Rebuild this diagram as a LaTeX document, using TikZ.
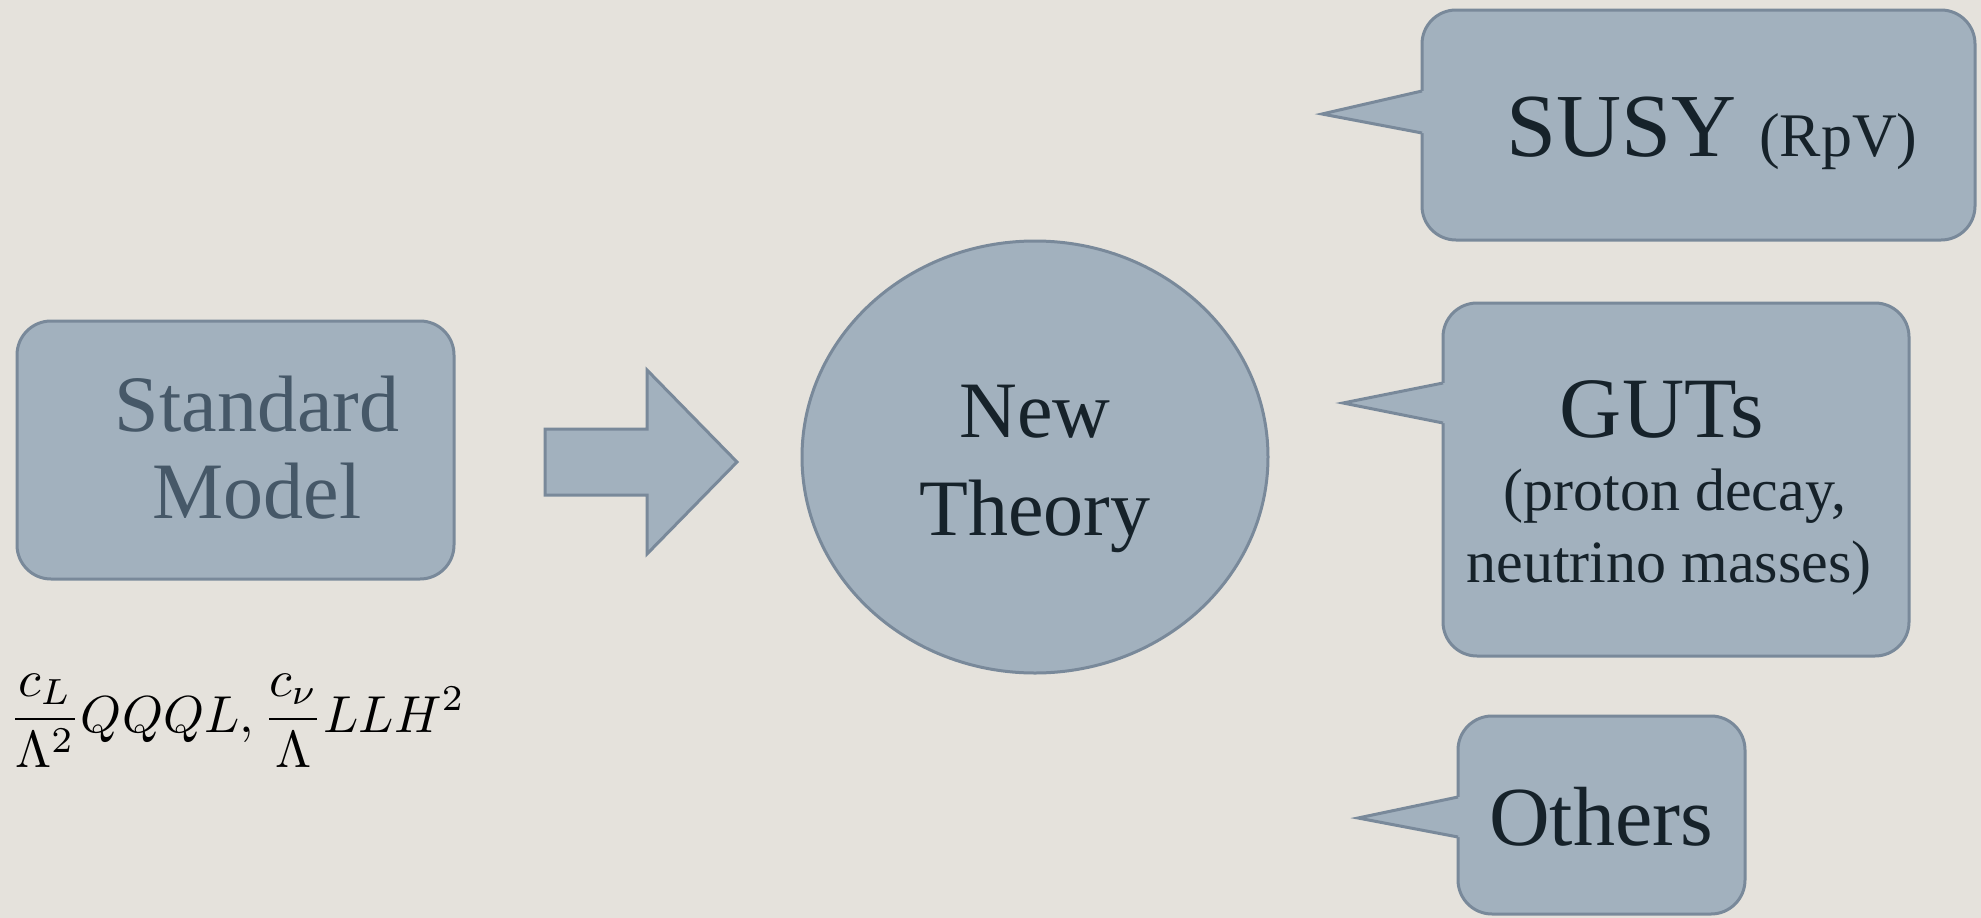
\documentclass[tikz,border=0pt]{standalone}
\usepackage[no-math]{fontspec}
\setmainfont{Liberation Serif}
\usetikzlibrary{shapes.geometric}
\definecolor{bg}{RGB}{229,226,220}
\definecolor{bfill}{RGB}{162,177,190}
\definecolor{bline}{RGB}{121,137,154}
\definecolor{dtext}{RGB}{22,34,42}
\definecolor{smtext}{RGB}{70,88,104}
\tikzset{
  boxstyle/.style={draw=bline, fill=bfill, line width=3pt, rounded corners=34pt, inner sep=0pt},
  ovalstyle/.style={ellipse, draw=bline, fill=bfill, line width=3pt, inner sep=0pt},
  tailfill/.style={fill=bfill},
  tailline/.style={draw=bline, line width=3pt, line join=miter},
  txt/.style={inner sep=0pt, anchor=base, text=dtext},
}
\newcommand{\fsz}[1]{\fontsize{#1}{#1}\selectfont}
\begin{document}
\begin{tikzpicture}[x=1pt, y=-1pt]
\useasboundingbox (0,0) rectangle (1981,918);
\fill[bg] (0,0) rectangle (1981,918);

% Standard Model box
\node[boxstyle, minimum width=437pt, minimum height=258pt] (sm) at (235.5,450) {};
\node[txt, text=smtext, font=\fsz{80}] (sm1) at (257,431) {Standard};
\node[txt, text=smtext, font=\fsz{80}] (sm2) at (257,518) {Model};

% block arrow
\coordinate (a1) at (545,429);
\coordinate (a2) at (647,429);
\coordinate (a3) at (647,370);
\coordinate (atip) at (737,462);
\coordinate (a5) at (647,554);
\coordinate (a6) at (647,495);
\coordinate (a7) at (545,495);
\draw[draw=bline, fill=bfill, line width=3pt, line join=miter] (a1) -- (a2) -- (a3) -- (atip) -- (a5) -- (a6) -- (a7) -- cycle;

% New Theory
\node[ovalstyle, minimum width=466pt, minimum height=432pt] (nt) at (1035,457) {};
\node[txt, font=\fsz{80}] (nt1) at (1035,437) {New};
\node[txt, font=\fsz{80}] (nt2) at (1035,535) {Theory};

% SUSY bubble
\node[boxstyle, minimum width=553pt, minimum height=230pt] (susy) at (1698.5,125) {};
\coordinate (st) at (1322,114);
\coordinate (sb1) at (1422,91);
\coordinate (sb2) at (1422,133);
\fill[tailfill] (st) -- (sb1) -- ++(5,0) -- ++(0,42) -- (sb2) -- cycle;
\draw[tailline] (sb1) -- (st) -- (sb2);
\node[txt, font=\fsz{90}] (susyt) at (1712,156) {SUSY {\fsz{62}(RpV)}};

% GUTs bubble
\node[boxstyle, minimum width=466pt, minimum height=353pt] (guts) at (1676,479.5) {};
\coordinate (gt) at (1343,403);
\coordinate (gb1) at (1443,383);
\coordinate (gb2) at (1443,423);
\fill[tailfill] (gt) -- (gb1) -- ++(5,0) -- ++(0,40) -- (gb2) -- cycle;
\draw[tailline] (gb1) -- (gt) -- (gb2);
\node[txt, font=\fsz{86}] (guts1) at (1662,437) {GUTs};
\node[txt, font=\fsz{60}] (guts2) at (1675,510) {(proton decay,};
\node[txt, font=\fsz{60}] (guts3) at (1669,582) {neutrino masses)};

% Others bubble
\node[boxstyle, minimum width=287pt, minimum height=198pt] (oth) at (1601.5,815) {};
\coordinate (ot) at (1358,818);
\coordinate (ob1) at (1458,797);
\coordinate (ob2) at (1458,837);
\fill[tailfill] (ot) -- (ob1) -- ++(5,0) -- ++(0,40) -- (ob2) -- cycle;
\draw[tailline] (ob1) -- (ot) -- (ob2);
\node[txt, font=\fsz{84}] (otht) at (1601,845) {Others};

% formula
\node[inner sep=0pt, anchor=base west, scale=5.2, text=black] (ops) at (8,732) {$\displaystyle \frac{c_L}{\Lambda^2}QQQL, \frac{c_\nu}{\Lambda}LLH^2$};
\end{tikzpicture}
\end{document}
